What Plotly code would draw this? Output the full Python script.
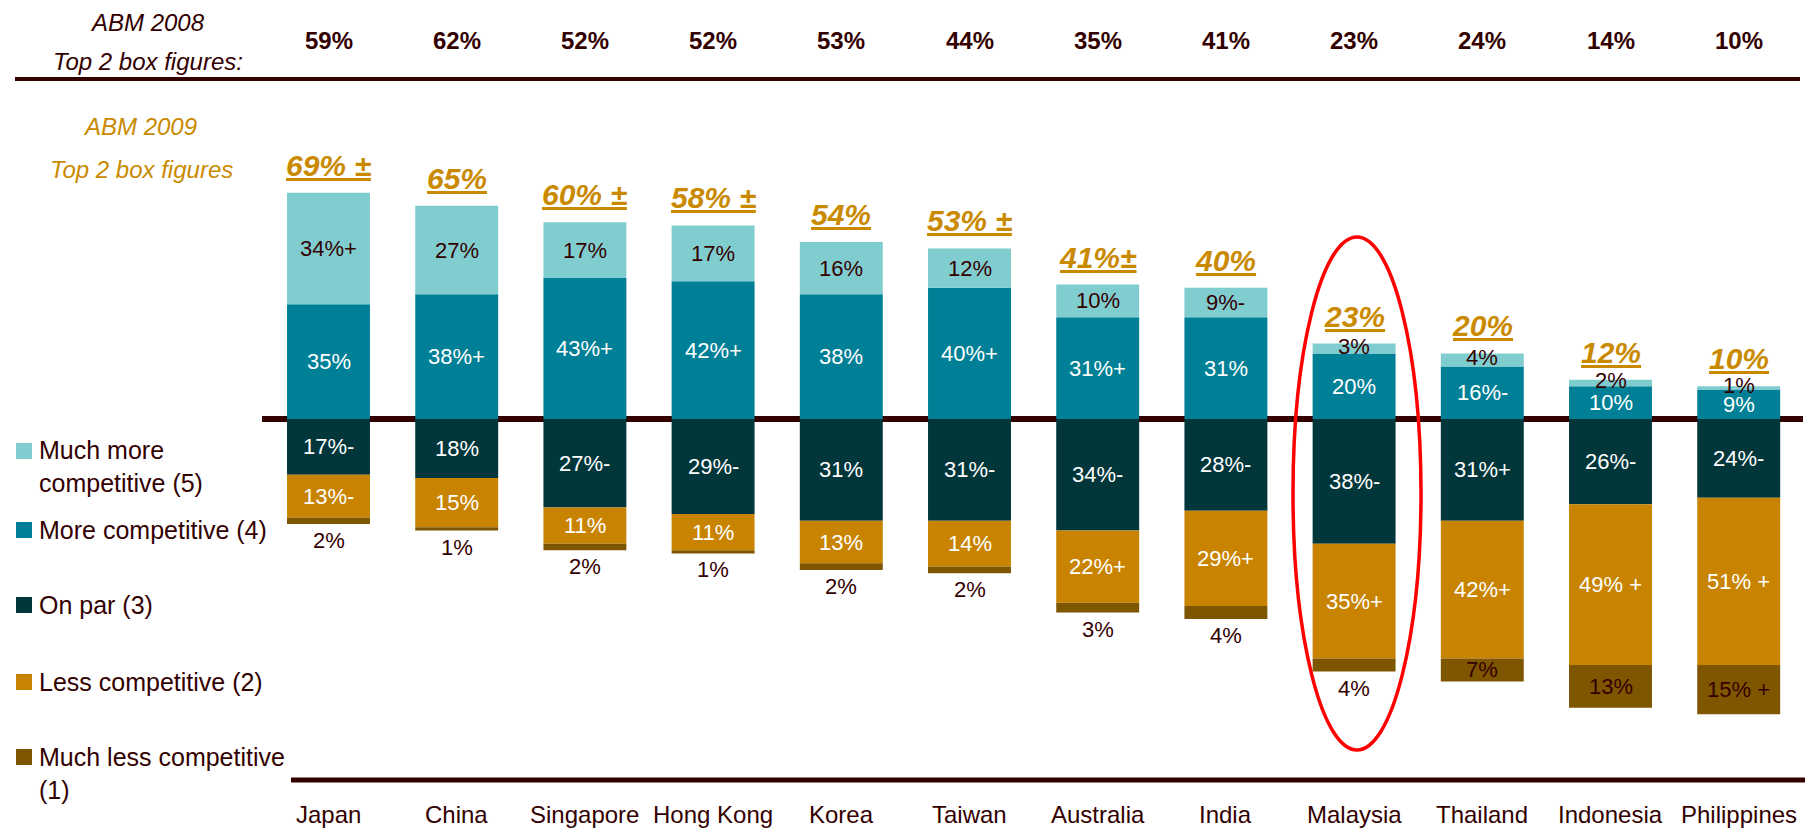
import plotly.graph_objects as go

W, H = 1814, 829
OFF = 8  # the page body margin shifts the figure by 8px

countries = ["Japan", "China", "Singapore", "Hong Kong", "Korea", "Taiwan",
             "Australia", "India", "Malaysia", "Thailand", "Indonesia", "Philippines"]

# 2009 shares (%)
much_more = [34, 27, 17, 17, 16, 12, 10, 9, 3, 4, 2, 1]
more = [35, 38, 43, 42, 38, 40, 31, 31, 20, 16, 10, 9]
on_par = [17, 18, 27, 29, 31, 31, 34, 28, 38, 31, 26, 24]
less = [13, 15, 11, 11, 13, 14, 22, 29, 35, 42, 49, 51]
much_less = [2, 1, 2, 1, 2, 2, 3, 4, 4, 7, 13, 15]

# labels as printed on the chart
lbl_much_more = ["34%+", "27%", "17%", "17%", "16%", "12%", "10%", "9%-", "3%", "4%", "2%", "1%"]
lbl_more = ["35%", "38%+", "43%+", "42%+", "38%", "40%+", "31%+", "31%", "20%", "16%-", "10%", "9%"]
lbl_on_par = ["17%-", "18%", "27%-", "29%-", "31%", "31%-", "34%-", "28%-", "38%-", "31%+", "26%-", "24%-"]
lbl_less = ["13%-", "15%", "11%", "11%", "13%", "14%", "22%+", "29%+", "35%+", "42%+", "49% +", "51% +"]
lbl_much_less = ["2%", "1%", "2%", "1%", "2%", "2%", "3%", "4%", "4%", "7%", "13%", "15% +"]

top2_2009 = ["69% ±", "65%", "60% ±", "58% ±", "54%", "53% ±", "41%±", "40%", "23%", "20%", "12%", "10%"]
top2_2008 = ["59%", "62%", "52%", "52%", "53%", "44%", "35%", "41%", "23%", "24%", "14%", "10%"]

legend_names = ["Much more<br>competitive (5)", "More competitive (4)", "On par (3)",
                "Less competitive (2)", "Much less competitive<br>(1)"]

C_MM, C_M, C_P, C_L, C_ML = "#80CDD0", "#008096", "#01363A", "#C88400", "#7F5600"
DARK = "#330000"
ORANGE = "#C98A00"
FONT = "Liberation Sans, Arial, sans-serif"


def px(xp):
    return (xp - OFF) / W


def py(yp):
    return 1 - (yp - OFF) / H


x = list(range(len(countries)))

fig = go.Figure()
# positive stack: more, then much more; negative stack: on par, less, much less
fig.add_bar(x=x, y=more, marker_color=C_M, name="More competitive (4)")
fig.add_bar(x=x, y=much_more, marker_color=C_MM, name="Much more competitive (5)")
fig.add_bar(x=x, y=[-v for v in on_par], marker_color=C_P, name="On par (3)")
fig.add_bar(x=x, y=[-v for v in less], marker_color=C_L, name="Less competitive (2)")
fig.add_bar(x=x, y=[-v for v in much_less], marker_color=C_ML, name="Much less competitive (1)")
fig.update_traces(marker_line_width=0, hoverinfo="skip")

ann = []


def seg_label(xi, yc, text, color, yshift=0, yanchor="middle"):
    ann.append(dict(x=xi, y=yc, xref="x", yref="y", text=text, showarrow=False,
                    yanchor=yanchor, yshift=yshift,
                    font=dict(family=FONT, size=22, color=color)))


for i in x:
    t4 = more[i]
    t5 = t4 + much_more[i]
    seg_label(i, t4 / 2, lbl_more[i], "white")
    seg_label(i, (t4 + t5) / 2, lbl_much_more[i], DARK, yshift=2 if much_more[i] < 5 else 0)
    b3 = -on_par[i]
    b2 = b3 - less[i]
    b1 = b2 - much_less[i]
    seg_label(i, b3 / 2, lbl_on_par[i], "white")
    seg_label(i, (b3 + b2) / 2, lbl_less[i], "white")
    if much_less[i] >= 7:
        seg_label(i, (b2 + b1) / 2, lbl_much_less[i], DARK)
    else:
        seg_label(i, b1, lbl_much_less[i], DARK, yshift=-2, yanchor="top")
    # 2009 top-2-box figure above the bar
    ann.append(dict(x=i, y=t5, xref="x", yref="y", text=top2_2009[i], showarrow=False,
                    yanchor="bottom", yshift=9,
                    font=dict(family=FONT, size=30, color=ORANGE, weight="bold",
                              style="italic", lineposition="under")))
    # 2008 figure in header row
    ann.append(dict(x=i, y=py(41), xref="x", yref="paper", text=top2_2008[i],
                    showarrow=False, yanchor="middle",
                    font=dict(family=FONT, size=24, color=DARK, weight="bold")))
    # country label
    ann.append(dict(x=i, y=py(814), xref="x", yref="paper", text=countries[i],
                    showarrow=False, yanchor="middle",
                    font=dict(family=FONT, size=24, color=DARK)))

# header texts
for txt, cx, cy, col in [("ABM 2008", 147, 22, DARK), ("Top 2 box figures:", 148, 62, DARK),
                         ("ABM 2009", 140, 126, ORANGE), ("Top 2 box figures", 141, 169, ORANGE)]:
    ann.append(dict(x=px(cx), y=py(cy), xref="paper", yref="paper", text=txt,
                    showarrow=False, xanchor="center", yanchor="middle", borderpad=0,
                    font=dict(family=FONT, size=24, color=col, style="italic")))

# custom legend
shapes = []
leg_colors = [C_MM, C_M, C_P, C_L, C_ML]
leg_sq_y = [451, 530, 605, 682, 757]
leg_txt_y = [467, 530, 605, 682, 773]
for name, col, sy, ty in zip(legend_names, leg_colors, leg_sq_y, leg_txt_y):
    shapes.append(dict(type="rect", xref="paper", yref="paper", x0=px(16), x1=px(32),
                       y0=py(sy + 8), y1=py(sy - 8), fillcolor=col, line_width=0))
    ann.append(dict(x=px(37), y=py(ty), xref="paper", yref="paper", text=name,
                    showarrow=False, xanchor="left", yanchor="middle", align="left",
                    font=dict(family=FONT, size=25, color=DARK)))

# rule lines
shapes.append(dict(type="line", xref="paper", yref="paper", x0=px(15), x1=px(1800),
                   y0=py(79), y1=py(79), line=dict(color=DARK, width=4)))
shapes.append(dict(type="line", xref="paper", yref="y", x0=px(262), x1=px(1803),
                   y0=0, y1=0, line=dict(color=DARK, width=6), layer="below"))
shapes.append(dict(type="line", xref="paper", yref="paper", x0=px(291), x1=px(1805),
                   y0=py(780), y1=py(780), line=dict(color=DARK, width=5)))
# highlight ellipse around Malaysia
shapes.append(dict(type="circle", xref="paper", yref="paper", x0=px(1293), x1=px(1421),
                   y0=py(750), y1=py(237), line=dict(color="#FF0000", width=3.5)))

px_per_pct = 3.28
base_px = 419 - OFF
step = 128.2
x0_px = 328.5 - OFF
fig.update_layout(
    width=W, height=H,
    margin=dict(l=0, r=0, t=0, b=0),
    barmode="relative", bargap=0.353,
    showlegend=False,
    plot_bgcolor="white", paper_bgcolor="white",
    xaxis=dict(range=[-x0_px / step, (W - x0_px) / step], visible=False, fixedrange=True),
    yaxis=dict(range=[-(H - base_px) / px_per_pct, base_px / px_per_pct], visible=False, fixedrange=True),
    annotations=ann, shapes=shapes,
)

fig.write_html("out.html")
